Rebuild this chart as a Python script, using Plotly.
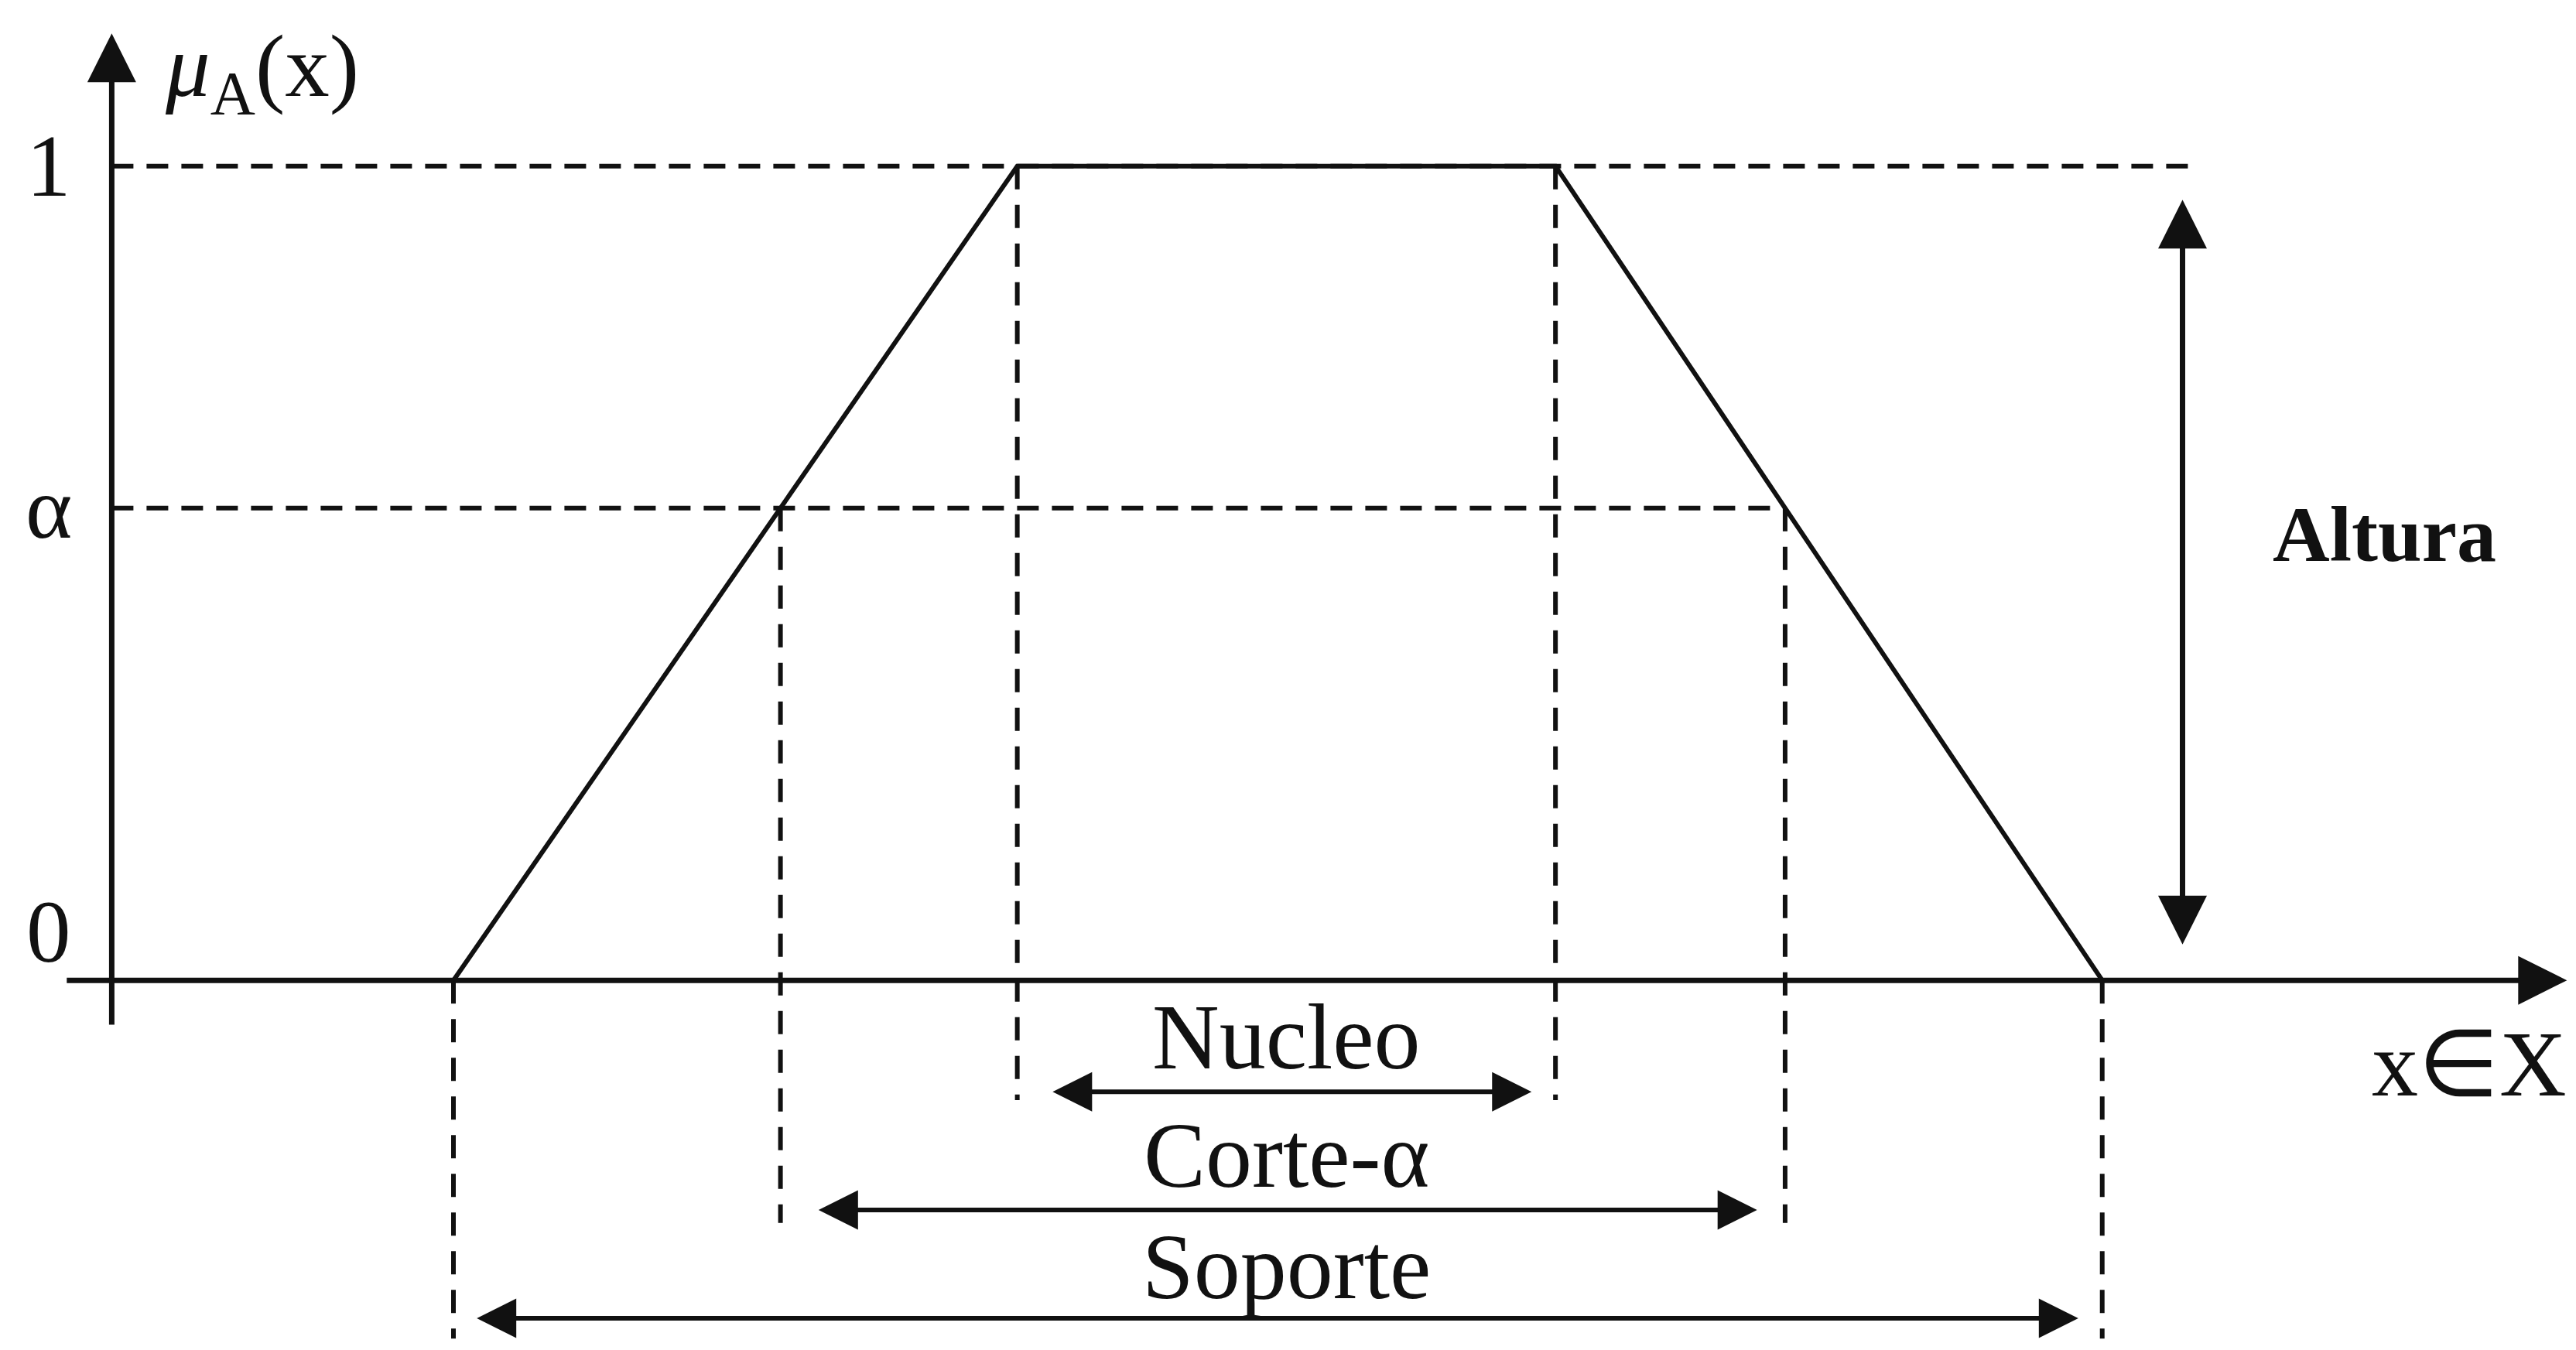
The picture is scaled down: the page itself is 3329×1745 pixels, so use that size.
import plotly.graph_objects as go

# Trapezoidal membership function A: feet and shoulders on the universe X
trap_x = [2.0, 5.3, 8.45, 11.65]
trap_mu = [0.0, 1.0, 1.0, 0.0]
alpha = 0.58

# Tick labels on the membership axis
tick_vals = [0.0, alpha, 1.0]
tick_text = ["0", "α", "1"]

# Interval names drawn under the x axis
interval_names = ["Nucleo", "Corte-α", "Soporte"]
height_name = "Altura"

a, b, c, d = trap_x
# α-cut end points on the rising and falling edges
alpha_left = a + alpha * (b - a)
alpha_right = d - alpha * (d - c)

X_RANGE = [-0.654, 14.423]
Y_RANGE = [-0.454, 1.204]

INK = "#111111"
SERIF = "Liberation Serif"

fig = go.Figure()

# membership function
fig.add_trace(go.Scatter(
    x=trap_x, y=trap_mu, mode="lines",
    line=dict(color=INK, width=6), hoverinfo="skip", showlegend=False,
))

dash_h = "28px,17px"
dash_v = "30px,20px"


def dline(x0, y0, x1, y1, dash):
    fig.add_shape(type="line", x0=x0, y0=y0, x1=x1, y1=y1, xref="x", yref="y",
                  line=dict(color=INK, width=6, dash=dash), layer="below")


# horizontal guides at height 1 and at α
dline(0, 1.0, 12.18, 1.0, dash_h)
dline(0, alpha, alpha_right, alpha, dash_h)

# vertical guides down to each interval
dline(b, 1.0, b, -0.147, dash_v)
dline(c, 1.0, c, -0.147, dash_v)
dline(alpha_left, alpha, alpha_left, -0.298, dash_v)
dline(alpha_right, alpha, alpha_right, -0.298, dash_v)
dline(a, 0, a, -0.44, dash_v)
dline(d, 0, d, -0.44, dash_v)


def arrow(x_head, y_head, x_tail, y_tail, width, size, both=False):
    fig.add_annotation(
        x=x_head, y=y_head, ax=x_tail, ay=y_tail,
        xref="x", yref="y", axref="x", ayref="y",
        text="", showarrow=True, arrowhead=2, arrowsize=size,
        arrowwidth=width, arrowcolor=INK, standoff=0, startstandoff=0,
        arrowside="end+start" if both else "end",
        startarrowhead=2, startarrowsize=size,
    )


# axes
arrow(14.37, 0, -0.27, 0, 7, 1.8)
arrow(0, 1.163, 0, -0.056, 7, 1.8)

# interval arrows
arrow(8.31, -0.137, 5.5, -0.137, 6, 1.7, both=True)
arrow(9.63, -0.282, 4.13, -0.282, 6, 1.7, both=True)
arrow(11.51, -0.415, 2.13, -0.415, 6, 1.7, both=True)
arrow(12.12, 0.044, 12.12, 0.96, 7, 1.8, both=True)


def label(x, y, text, size, family=SERIF, xanchor="center"):
    fig.add_annotation(x=x, y=y, xref="x", yref="y", text=text, showarrow=False,
                       font=dict(family=family, size=size, color=INK),
                       xanchor=xanchor, yanchor="middle")


for v, t in zip(tick_vals, tick_text):
    label(-0.37, v + (0.06 if v == 0 else 0.0), t, 115)

label(0.3, 1.115, "<i>μ</i><sub>A</sub>(x)", 115, xanchor="left")

label((b + c) / 2, -0.07, interval_names[0], 120)
label((b + c) / 2, -0.215, interval_names[1], 120)
label((b + c) / 2, -0.352, interval_names[2], 120)
label(13.3, 0.548, "<b>" + height_name + "</b>", 102)
label(13.8, -0.103, "x∈X", 120)

fig.update_layout(
    width=3329, height=1745,
    margin=dict(l=0, r=0, t=0, b=0),
    paper_bgcolor="white", plot_bgcolor="white",
    xaxis=dict(range=X_RANGE, visible=False, fixedrange=True),
    yaxis=dict(range=Y_RANGE, visible=False, fixedrange=True),
    showlegend=False,
)

fig.write_html("out.html")
